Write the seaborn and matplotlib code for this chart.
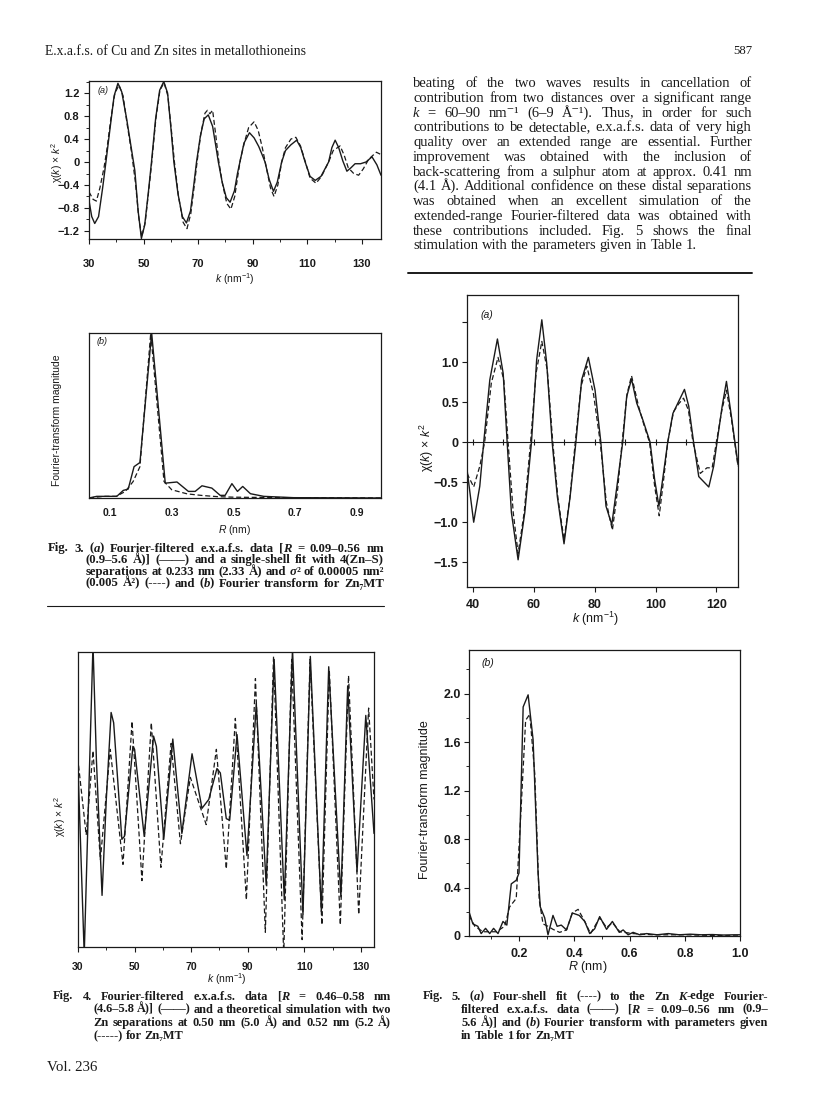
import numpy as np
import pandas as pd
import matplotlib
matplotlib.use("Agg")
import matplotlib.pyplot as plt
from matplotlib.ticker import MultipleLocator
import seaborn as sns

# ---- data ----
# Fig. 3(a): Fourier-filtered exafs (solid) and single-shell fit (dashed), k in nm^-1
k3a_data = [30.0, 31.0, 32.1, 33.5, 35.0, 36.2, 37.8, 39.2, 40.6, 42.0, 43.8, 45.3, 46.8, 48.0, 49.2,
            50.4, 51.7, 52.9, 54.4, 55.9, 57.4, 58.8, 60.1, 61.1, 62.6, 64.2, 65.7, 67.2, 68.4, 69.4,
            70.8, 72.2, 73.7, 75.3, 76.4, 77.4, 78.8, 80.3, 81.7, 83.3, 84.4, 85.3, 86.8, 88.8, 90.5,
            92.2, 93.5, 94.5, 96.0, 97.6, 99.0, 100.6, 102.0, 104.0, 106.1, 107.6, 109.2, 111.0, 112.9,
            115.0, 117.8, 119.0, 120.2, 121.5, 123.0, 124.5, 126.0, 127.5, 129.5, 131.5, 133.7, 135.5, 137.0]
chi3a_data = [-0.67, -0.95, -1.07, -0.95, -0.45, 0.0, 0.62, 1.15, 1.37, 1.22, 0.75, 0.3, -0.15, -0.85, -1.33,
              -1.1, -0.55, 0.0, 0.75, 1.25, 1.40, 1.2, 0.55, 0.0, -0.55, -0.95, -1.06, -0.85, -0.4, 0.0,
              0.45, 0.75, 0.82, 0.62, 0.3, 0.0, -0.35, -0.62, -0.70, -0.5, -0.2, 0.0, 0.33, 0.51, 0.42,
              0.27, 0.12, 0.0, -0.3, -0.51, -0.35, 0.0, 0.2, 0.3, 0.38, 0.25, 0.0, -0.25, -0.32,
              -0.25, 0.0, 0.25, 0.38, 0.25, 0.02, -0.16, -0.1, -0.03, -0.03, 0.0, 0.09, -0.05, -0.23]
k3a_fit = [30.0, 31.5, 32.7, 34.0, 35.5, 36.5, 38.0, 39.5, 41.0, 42.5, 44.0, 45.5, 47.0, 48.2, 49.3,
           50.6, 52.0, 53.0, 54.5, 56.0, 57.5, 58.9, 60.3, 61.3, 62.8, 64.5, 65.9, 67.3, 68.6, 69.6,
           71.0, 72.5, 73.4, 74.3, 75.3, 76.5, 77.6, 79.0, 80.5, 82.0, 83.4, 84.5, 85.5, 87.0, 88.5,
           90.5, 92.0, 93.5, 95.0, 96.5, 97.8, 99.2, 100.6, 102.0, 104.0, 105.8, 107.5, 109.3, 111.0,
           113.2, 115.2, 117.8, 119.5, 122.0, 123.5, 125.0, 127.0, 128.8, 130.5, 132.5, 135.3, 137.0]
chi3a_fit = [-0.52, -0.65, -0.68, -0.45, -0.1, 0.2, 0.75, 1.2, 1.34, 1.15, 0.65, 0.2, -0.35, -0.95, -1.3,
             -1.05, -0.45, 0.0, 0.75, 1.25, 1.38, 1.15, 0.5, 0.0, -0.6, -1.05, -1.16, -0.9, -0.4, 0.0,
             0.5, 0.85, 0.90, 0.84, 0.9, 0.45, 0.0, -0.4, -0.72, -0.82, -0.6, -0.25, 0.05, 0.35, 0.6,
             0.70, 0.55, 0.25, -0.1, -0.45, -0.60, -0.4, 0.0, 0.25, 0.4, 0.43, 0.28, 0.0, -0.28,
             -0.37, -0.25, 0.0, 0.2, 0.28, 0.12, -0.1, -0.2, -0.23, -0.12, 0.05, 0.17, 0.13]

# Fig. 3(b): Fourier transform, R in nm (arbitrary magnitude)
r3b_data = [0.032, 0.057, 0.122, 0.143, 0.159, 0.178, 0.197, 0.235, 0.279, 0.317, 0.354, 0.376, 0.398,
            0.43, 0.457, 0.473, 0.495, 0.513, 0.53, 0.555, 0.598, 0.695, 0.978]
ft3b_data = [0.0, 0.01, 0.01, 0.046, 0.054, 0.19, 0.215, 1.0, 0.09, 0.097, 0.04, 0.04, 0.074,
             0.06, 0.016, 0.016, 0.087, 0.04, 0.07, 0.026, 0.01, 0.002, 0.0]
r3b_fit = [0.032, 0.08, 0.12, 0.15, 0.175, 0.197, 0.232, 0.275, 0.30, 0.35, 0.40, 0.45, 0.5, 0.55, 0.7, 0.978]
ft3b_fit = [0.0, 0.01, 0.01, 0.04, 0.1, 0.19, 1.0, 0.1, 0.05, 0.025, 0.015, 0.008, 0.005, 0.004, 0.002, 0.0]

# Fig. 4: outer-shell filtered data (solid) and two-Zn simulation (dashed)
k4_data = [30.0, 32.2, 33.4, 35.3, 36.5, 38.5, 40.0, 41.7, 42.6, 45.5, 46.4, 49.4, 50.0, 53.4, 56.7,
           57.7, 60.3, 63.5, 66.7, 70.3, 73.8, 76.2, 79.1, 80.3, 82.4, 83.6, 86.2, 89.7, 93.0, 96.5,
           99.3, 102.9, 105.8, 109.5, 112.1, 116.0, 118.6, 122.9, 125.3, 128.6, 131.7, 134.6]
chi4_data = [0.22, -1.05, -0.23, 1.05, 0.27, -0.65, 0.0, 0.59, 0.52, -0.27, -0.25, 0.36, 0.34, -0.25, 0.43,
             0.36, -0.27, 0.41, -0.23, 0.31, -0.06, 0.0, 0.21, 0.18, -0.13, -0.14, 0.44, -0.38, 0.65, -0.58,
             0.95, -0.68, 1.02, -0.78, 0.97, -0.76, 0.9, -0.66, 0.77, -0.49, 0.57, -0.23]
k4_sim = [30.2, 32.9, 35.3, 37.9, 41.4, 45.9, 49.1, 52.6, 55.9, 59.3, 62.9, 66.2, 69.7, 75.3, 78.9,
          82.4, 85.6, 89.5, 92.7, 96.2, 99.1, 102.7, 105.5, 109.2, 112.0, 116.2, 118.8, 122.7, 125.6,
          129.2, 132.7, 134.6]
chi4_sim = [0.23, -0.24, 0.33, -0.41, 0.34, -0.44, 0.53, -0.55, 0.52, -0.46, 0.38, -0.30, 0.15, -0.17, 0.34,
            -0.47, 0.55, -0.68, 0.82, -0.90, 0.97, -1.05, 0.95, -0.95, 0.95, -0.85, 0.88, -0.85, 0.84,
            -0.78, 0.62, 0.0]

# Fig. 5(a): extended-range data (solid) and four-shell fit (dashed)
k5a_data = [38.0, 40.2, 42.2, 43.5, 45.5, 48.0, 49.9, 51.2, 52.6, 54.8, 57.0, 59.2, 60.9, 62.6, 64.2,
            66.0, 67.7, 69.9, 71.9, 73.8, 75.7, 77.9, 80.1, 82.0, 83.7, 85.6, 87.3, 89.2, 90.5, 92.1,
            93.8, 95.8, 98.2, 99.7, 101.1, 102.6, 104.0, 105.7, 107.6, 109.5, 110.9, 112.5, 114.2, 117.5,
            119.1, 120.2, 121.9, 123.3, 124.8, 127.1]
chi5a_data = [-0.34, -1.0, -0.55, 0.0, 0.78, 1.29, 0.86, 0.0, -0.88, -1.47, -0.88, 0.0, 1.03, 1.53, 0.99,
              0.0, -0.68, -1.27, -0.68, 0.0, 0.78, 1.06, 0.65, 0.0, -0.8, -1.03, -0.55, 0.0, 0.57, 0.79,
              0.49, 0.28, 0.0, -0.47, -0.8, -0.39, 0.0, 0.36, 0.51, 0.66, 0.45, 0.0, -0.43, -0.56,
              -0.3, 0.0, 0.45, 0.76, 0.36, -0.28]
k5a_fit = [38.0, 40.2, 42.2, 43.8, 46.0, 48.2, 50.1, 51.5, 53.2, 54.8, 56.8, 58.9, 60.7, 62.6, 64.4,
           66.2, 67.9, 69.9, 71.8, 73.6, 75.5, 77.4, 79.6, 81.8, 83.8, 85.8, 87.5, 89.0, 90.6, 92.1,
           94.4, 96.3, 98.0, 99.7, 101.2, 102.7, 104.0, 105.9, 107.6, 109.2, 110.8, 112.3, 114.7, 116.9,
           118.6, 120.0, 121.8, 123.3, 124.9, 127.1]
chi5a_fit = [-0.39, -0.56, -0.3, 0.0, 0.74, 1.06, 0.78, 0.0, -0.88, -1.39, -0.88, 0.0, 0.86, 1.26, 0.9,
             0.0, -0.7, -1.22, -0.7, 0.0, 0.7, 0.95, 0.6, 0.0, -0.75, -1.1, -0.6, 0.0, 0.6, 0.83,
             0.45, 0.2, 0.0, -0.55, -0.92, -0.45, 0.0, 0.38, 0.48, 0.55, 0.4, 0.0, -0.39, -0.32,
             -0.32, 0.0, 0.4, 0.65, 0.3, -0.3]

# Fig. 5(b): Fourier transforms
r5b_data = [0.019, 0.033, 0.051, 0.063, 0.079, 0.094, 0.108, 0.124, 0.142, 0.156, 0.172, 0.19, 0.2,
            0.215, 0.233, 0.251, 0.269, 0.277, 0.293, 0.305, 0.323, 0.338, 0.353, 0.372, 0.393, 0.418,
            0.438, 0.456, 0.474, 0.492, 0.517, 0.538, 0.563, 0.577, 0.595, 0.613, 0.637, 0.662, 0.70,
            0.74, 0.78, 0.82, 0.86, 0.90, 0.94, 0.98, 1.0]
ft5b_data = [0.2, 0.10, 0.08, 0.02, 0.063, 0.02, 0.063, 0.02, 0.12, 0.09, 0.43, 0.46, 0.52,
             1.89, 1.99, 1.62, 0.52, 0.24, 0.15, 0.01, 0.17, 0.08, 0.09, 0.05, 0.19, 0.17,
             0.12, 0.02, 0.06, 0.16, 0.055, 0.12, 0.03, 0.05, 0.01, 0.03, 0.01, 0.02, 0.01,
             0.02, 0.01, 0.015, 0.01, 0.012, 0.008, 0.01, 0.01]
r5b_fit = [0.019, 0.04, 0.07, 0.118, 0.148, 0.166, 0.19, 0.208, 0.224, 0.239, 0.257, 0.273, 0.287,
           0.305, 0.323, 0.347, 0.372, 0.393, 0.414, 0.438, 0.459, 0.492, 0.517, 0.538, 0.565, 0.613,
           0.686, 0.8, 1.0]
ft5b_fit = [0.17, 0.08, 0.035, 0.035, 0.08, 0.24, 0.31, 1.07, 1.78, 1.83, 1.34, 0.3, 0.1,
            0.08, 0.055, 0.03, 0.05, 0.19, 0.22, 0.12, 0.02, 0.15, 0.07, 0.11, 0.035, 0.02,
            0.01, 0.01, 0.0]
zero_ticks_5a = [40, 50, 60, 70, 80, 90, 100, 110, 120]
k_ticks_wide = [30, 50, 70, 90, 110, 130]

# ---- text on the page ----
header = "E.x.a.f.s. of Cu and Zn sites in metallothioneins"
page_no = "587"
paragraph = [
    "beating of the two waves results in cancellation of",
    "contribution from two distances over a significant range",
    "*k* = 60–90 nm⁻¹ (6–9 Å⁻¹). Thus, in order for such",
    "contributions to be detectable, e.x.a.f.s. data of very high",
    "quality over an extended range are essential. Further",
    "improvement was obtained with the inclusion of",
    "back-scattering from a sulphur atom at approx. 0.41 nm",
    "(4.1 Å). Additional confidence on these distal separations",
    "was obtained when an excellent simulation of the",
    "extended-range Fourier-filtered data was obtained with",
    "these contributions included. Fig. 5 shows the final",
    "stimulation with the parameters given in Table 1.",
]
cap3 = [
    "Fig. 3. (*a*) Fourier-filtered e.x.a.f.s. data [*R* = 0.09–0.56 nm",
    "(0.9–5.6 Å)] (——) and a single-shell fit with 4(Zn–S)",
    "separations at 0.233 nm (2.33 Å) and *σ*² of 0.00005 nm²",
    "(0.005 Å²) (----) and (*b*) Fourier transform for Zn₇MT",
]
cap4 = [
    "Fig. 4. Fourier-filtered e.x.a.f.s. data [*R* = 0.46–0.58 nm",
    "(4.6–5.8 Å)] (——) and a theoretical simulation with two",
    "Zn separations at 0.50 nm (5.0 Å) and 0.52 nm (5.2 Å)",
    "(-----) for Zn₇MT",
]
cap5 = [
    "Fig. 5. (*a*) Four-shell fit (----) to the Zn *K*-edge Fourier-",
    "filtered e.x.a.f.s. data (——) [*R* = 0.09–0.56 nm (0.9–",
    "5.6 Å)] and (*b*) Fourier transform with parameters given",
    "in Table 1 for Zn₇MT",
]
footer = "Vol. 236"

# ---- style ----
sns.set_style("ticks")
plt.rcParams["font.family"] = ["Liberation Sans", "DejaVu Sans"]
plt.rcParams["mathtext.fontset"] = "custom"
plt.rcParams["mathtext.rm"] = "Liberation Sans"
plt.rcParams["mathtext.it"] = "Liberation Sans:italic"
plt.rcParams["mathtext.bf"] = "Liberation Sans:bold"
plt.rcParams["axes.linewidth"] = 0.9
plt.rcParams["axes.edgecolor"] = "black"
SERIF = ["Liberation Serif", "DejaVu Serif"]
INK = "#1a1a1a"

W, H = 816, 1097
fig = plt.figure(figsize=(W / 100, H / 100), dpi=100)
fig.patch.set_facecolor("white")
renderer = fig.canvas.get_renderer()


def box(l, t, r, b):
    return fig.add_axes([l / W, 1 - b / H, (r - l) / W, (b - t) / H])


def text_width(s, **kw):
    t = fig.text(0, 0, s, **kw)
    w = t.get_window_extent(renderer).width
    t.remove()
    return w


def fit_size(s, target, **kw):
    return 10 * target / text_width(s.replace("*", ""), fontsize=10, **kw)


def block_size(lines, x_first, x_rest, x1, weight="normal", fill=0.985):
    # largest size at which the widest line still fits with plain spacing
    sizes = []
    for i, line in enumerate(lines):
        avail = x1 - (x_first if i == 0 else x_rest)
        sizes.append(fit_size(line, avail * fill, family=SERIF, fontweight=weight))
    return min(sizes)


def write_line(line, x0, x1, y, size, weight="normal", justify=True):
    # '*' toggles italic; words are spread from x0 to x1 when justified
    italic = False
    rows, widths = [], []
    for word in line.split(" "):
        row, tot = [], 0
        for i, part in enumerate(word.split("*")):
            if i > 0:
                italic = not italic
            if not part:
                continue
            t = fig.text(0, 0, part, fontsize=size, fontweight=weight,
                         fontstyle="italic" if italic else "normal",
                         family=SERIF, color=INK, ha="left", va="baseline")
            w = t.get_window_extent(renderer).width
            row.append((t, w))
            tot += w
        rows.append(row)
        widths.append(tot)
    if justify and len(rows) > 1:
        gap = (x1 - x0 - sum(widths)) / (len(rows) - 1)
    else:
        kw = dict(fontsize=size, fontweight=weight, family=SERIF)
        gap = text_width("x x", **kw) - text_width("xx", **kw)
    x = x0
    for row, tot in zip(rows, widths):
        for t, w in row:
            t.set_position((x / W, 1 - y / H))
            x += w
        x += gap


def write_block(lines, x_first, x_rest, x1, y_first, step, size, weight="normal", last_justified=False):
    for i, line in enumerate(lines):
        x0 = x_first if i == 0 else x_rest
        just = last_justified or i < len(lines) - 1
        write_line(line, x0, x1, y_first + i * step, size, weight, just)


def draw(ax, x, y, dashed=False):
    sns.lineplot(x=x, y=y, ax=ax, color=INK, linewidth=0.9 if dashed else 1.0,
                 estimator=None, sort=False, linestyle="--" if dashed else "-")
    if dashed:
        ax.lines[-1].set_dashes([4, 2.2])


def finish(ax, tick_size, pad_x, pad_y=3):
    ax.tick_params(axis="both", which="major", direction="out", length=3.5, width=0.8,
                   labelsize=tick_size, pad=pad_x, colors=INK)
    ax.tick_params(axis="y", which="major", pad=pad_y)
    ax.tick_params(axis="both", which="minor", direction="out", length=2.2, width=0.7)
    for lab in ax.get_xticklabels() + ax.get_yticklabels():
        lab.set_fontweight("bold")
    for s in ax.spines.values():
        s.set_visible(True)
        s.set_color(INK)


def place_labels(ax, l, t, r, b, xl, yl, xpos, ypos, size):
    ax.set_xlabel(xl, fontsize=size, color=INK)
    ax.set_ylabel(yl, fontsize=size, color=INK)
    ax.xaxis.label.set_va("center")
    ax.yaxis.label.set_va("center")
    ax.xaxis.set_label_coords((xpos[0] - l) / (r - l), (b - xpos[1]) / (b - t))
    ax.yaxis.set_label_coords((ypos[0] - l) / (r - l), (b - ypos[1]) / (b - t))


klabel = r"$\mathit{k}$ (nm$^{-1}$)"
chilabel = r"χ($\mathit{k}$) × $\mathit{k}^2$"
rlabel = r"$\mathit{R}$ (nm)"
ftlabel = "Fourier-transform magnitude"

# ---- Fig. 3(a) ----
L, T, R, B = 89, 81, 381, 239
ax = box(L, T, R, B)
draw(ax, k3a_data, chi3a_data)
draw(ax, k3a_fit, chi3a_fit, dashed=True)
ax.set_xlim(30, 137)
ax.set_ylim(-1.34, 1.41)
ax.set_xticks(k_ticks_wide)
ax.xaxis.set_minor_locator(MultipleLocator(10))
ax.yaxis.set_minor_locator(MultipleLocator(0.2))
ax.set_yticks([-1.2, -0.8, -0.4, 0, 0.4, 0.8, 1.2])
ax.set_yticklabels(["−1.2", "−0.8", "−0.4", "0", "0.4", "0.8", "1.2"])
finish(ax, 8, 11, 3.5)
place_labels(ax, L, T, R, B, klabel, chilabel, (235, 279), (57, 163), 7.5)
ax.text((98 - L) / (R - L), (B - 90) / (B - T), "(a)", transform=ax.transAxes,
        fontsize=6.5, fontstyle="italic", va="center", ha="left", color=INK)

# ---- Fig. 3(b) ----
L, T, R, B = 89, 333, 381, 498
ax = box(L, T, R, B)
draw(ax, r3b_data, ft3b_data)
draw(ax, r3b_fit, ft3b_fit, dashed=True)
ax.set_xlim(0.032, 0.978)
ax.set_ylim(0, 1.0)
ax.set_xticks([0.1, 0.3, 0.5, 0.7, 0.9])
ax.set_xticklabels(["0.1", "0.3", "0.5", "0.7", "0.9"])
ax.set_yticks([])
finish(ax, 7.5, 7)
ax.tick_params(axis="x", length=0)
place_labels(ax, L, T, R, B, rlabel, ftlabel, (235, 530), (57, 420), 7.5)
ax.text((97 - L) / (R - L), (B - 342) / (B - T), "(b)", transform=ax.transAxes,
        fontsize=6.5, fontstyle="italic", va="center", ha="left", color=INK)

# ---- Fig. 4 ----
L, T, R, B = 78, 652, 374, 947
ax = box(L, T, R, B)
draw(ax, k4_data, chi4_data)
draw(ax, k4_sim, chi4_sim, dashed=True)
ax.set_xlim(30, 134.6)
ax.set_ylim(-1, 1)
ax.set_xticks(k_ticks_wide)
ax.xaxis.set_minor_locator(MultipleLocator(10))
ax.set_yticks([])
finish(ax, 7.5, 7)
place_labels(ax, L, T, R, B, klabel, chilabel, (227, 979), (60, 817), 7.5)

# ---- Fig. 5(a) ----
L, T, R, B = 467, 295, 738, 587
ax = box(L, T, R, B)
ax.axhline(0, color=INK, lw=0.8)
ax.plot(zero_ticks_5a, [0] * len(zero_ticks_5a), ls="none", marker="|", ms=5, mew=0.8, color=INK)
draw(ax, k5a_data, chi5a_data)
draw(ax, k5a_fit, chi5a_fit, dashed=True)
ax.set_xlim(38.0, 127.1)
ax.set_ylim(-1.81, 1.84)
ax.set_xticks([40, 60, 80, 100, 120])
ax.set_yticks([-1.5, -1.0, -0.5, 0, 0.5, 1.0, 1.5])
ax.set_yticklabels(["−1.5", "−1.0", "−0.5", "0", "0.5", "1.0", ""])
finish(ax, 9, 5, 2.5)
place_labels(ax, L, T, R, B, klabel, chilabel, (596, 619), (427, 448), 9)
ax.text((481 - L) / (R - L), (B - 315) / (B - T), "(a)", transform=ax.transAxes,
        fontsize=7.5, fontstyle="italic", va="center", ha="left", color=INK)

# ---- Fig. 5(b) ----
L, T, R, B = 469, 650, 740, 936
ax = box(L, T, R, B)
draw(ax, r5b_data, ft5b_data)
draw(ax, r5b_fit, ft5b_fit, dashed=True)
ax.set_xlim(0.019, 1.0)
ax.set_ylim(0, 2.36)
ax.set_xticks([0.2, 0.4, 0.6, 0.8, 1.0])
ax.set_xticklabels(["0.2", "0.4", "0.6", "0.8", "1.0"])
ax.xaxis.set_minor_locator(MultipleLocator(0.1))
ax.set_yticks([0, 0.4, 0.8, 1.2, 1.6, 2.0])
ax.set_yticklabels(["0", "0.4", "0.8", "1.2", "1.6", "2.0"])
ax.yaxis.set_minor_locator(MultipleLocator(0.2))
finish(ax, 9, 5, 2.5)
place_labels(ax, L, T, R, B, rlabel, ftlabel, (588, 967), (425, 800), 9)
ax.text((482 - L) / (R - L), (B - 663) / (B - T), "(b)", transform=ax.transAxes,
        fontsize=7.5, fontstyle="italic", va="center", ha="left", color=INK)

# ---- page text ----
hs = fit_size(header, 259, family=SERIF)
fig.text(45 / W, 1 - 55 / H, header, fontsize=hs, family=SERIF, color=INK, va="baseline")
ps = fit_size(page_no, 19, family=SERIF)
fig.text(752 / W, 1 - 54 / H, page_no, fontsize=ps, family=SERIF, color=INK, va="baseline", ha="right")

para_size = block_size(paragraph, 413, 413, 752)
write_block(paragraph, 413, 413, 752, 87, 14.76, para_size)

cap3_size = block_size(cap3, 48, 86, 384, "bold", fill=1.0)
cap4_size = block_size(cap4, 53, 93, 391, "bold", fill=1.0)
cap5_size = block_size(cap5, 423, 461, 768, "bold", fill=1.0)
cap_size = min(cap4_size, cap5_size)
write_block(cap3, 48, 86, 384, 551.5, 11.7, cap3_size, "bold", last_justified=True)
write_block(cap4, 53, 93, 391, 999.5, 13.2, cap_size, "bold")
write_block(cap5, 423, 461, 768, 999.5, 13.2, cap_size, "bold")

fs = fit_size(footer, 50, family=SERIF)
fig.text(47 / W, 1 - 1071 / H, footer, fontsize=fs, family=SERIF, color=INK, va="baseline")

# rules
fig.add_artist(plt.Line2D([47 / W, 384 / W], [1 - 606 / H] * 2, color=INK, lw=0.8))
fig.add_artist(plt.Line2D([408 / W, 752 / W], [1 - 273 / H] * 2, color=INK, lw=1.4))

fig.savefig("out.png", dpi=100, facecolor="white")
